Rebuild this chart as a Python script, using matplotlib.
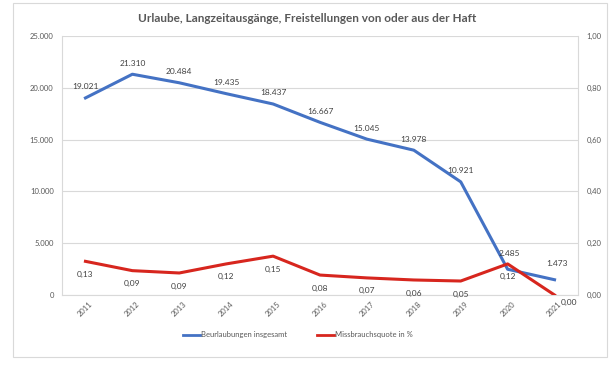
import matplotlib.pyplot as plt
from matplotlib.patches import Rectangle

# values
years = ['2011', '2012', '2013', '2014', '2015', '2016', '2017', '2018', '2019', '2020', '2021']
beurlaubungen = [19021, 21310, 20484, 19435, 18437, 16667, 15045, 13978, 10921, 2485, 1473]
missbrauch = [0.13, 0.094, 0.085, 0.12, 0.15, 0.077, 0.066, 0.058, 0.054, 0.12, 0.0]
missbrauch_labels = ['0,13', '0,09', '0,09', '0,12', '0,15', '0,08', '0,07', '0,06', '0,05', '0,12', '0,00']
left_ticks = [0, 5000, 10000, 15000, 20000, 25000]
right_ticks = [0.0, 0.2, 0.4, 0.6, 0.8, 1.0]

BLUE = '#4472C4'
RED = '#D7261E'
GREY = '#595959'
GRID = '#D9D9D9'

plt.rcParams['font.family'] = ['Lato', 'DejaVu Sans']


def de_int(v):
    return '{:,}'.format(int(v)).replace(',', '.')


def de_dec(v):
    return '{:.2f}'.format(v).replace('.', ',')


fig = plt.figure(figsize=(6.15, 3.67), dpi=100)
fig.patches.append(Rectangle((13 / 615, 1 - 357 / 367), 594 / 615, 354 / 367,
                             transform=fig.transFigure, fill=False,
                             edgecolor='#D9D9D9', linewidth=0.8))

ax = fig.add_axes([62 / 615, 1 - 295 / 367, 516 / 615, 259 / 367])
ax2 = ax.twinx()

x = list(range(len(years)))
ax.plot(x, beurlaubungen, color=BLUE, linewidth=2.2, zorder=3)
ax2.plot(x, missbrauch, color=RED, linewidth=2.2, zorder=3)

ax.set_xlim(-0.5, len(years) - 0.5)
ax.set_ylim(0, 25000)
ax2.set_ylim(0, 1.0)
ax.set_yticks(left_ticks)
ax.set_yticklabels([de_int(t) for t in left_ticks])
ax2.set_yticks(right_ticks)
ax2.set_yticklabels([de_dec(t) for t in right_ticks])
ax.set_xticks(x)
ax.set_xticklabels(years, rotation=45, ha='center', va='top')

ax.grid(axis='y', color=GRID, linewidth=0.8)
ax.set_axisbelow(True)
for a in (ax, ax2):
    for s in a.spines.values():
        s.set_visible(False)
    a.tick_params(length=0, labelsize=5.5, labelcolor=GREY)
ax.spines['left'].set_visible(True)
ax.spines['left'].set_color(GRID)
ax.spines['bottom'].set_visible(True)
ax.spines['bottom'].set_color(GRID)
ax2.spines['right'].set_visible(True)
ax2.spines['right'].set_color(GRID)
ax.tick_params(axis='y', pad=6)
ax2.tick_params(axis='y', pad=6)
ax.tick_params(axis='x', pad=4)

# data labels
for i, v in enumerate(beurlaubungen):
    off = (0, 11) if i < 9 else (2, 16)
    ax.annotate(de_int(v), (i, v), xytext=off, textcoords='offset pixels',
                ha='center', va='center', fontsize=6, color='#404040', zorder=4)
for i, v in enumerate(missbrauch):
    if i == len(missbrauch) - 1:
        off, ha = (6, -7), 'left'
    else:
        off, ha = (0, -13), 'center'
    ax2.annotate(missbrauch_labels[i], (i, v), xytext=off, textcoords='offset pixels',
                 ha=ha, va='center', fontsize=6, color='#404040', zorder=4)

fig.text(0.5, 1 - 18 / 367, 'Urlaube, Langzeitausgänge, Freistellungen von oder aus der Haft',
         ha='center', va='center', fontsize=8.5, fontweight='bold', color=GREY)

h1, = ax.plot([], [], color=BLUE, linewidth=2)
h2, = ax.plot([], [], color=RED, linewidth=2)
fig.legend([h1, h2], ['Beurlaubungen insgesamt', 'Missbrauchsquote in %'],
           loc='center', bbox_to_anchor=(298 / 615, 1 - 335 / 367), ncol=2,
           frameon=False, fontsize=5.5, labelcolor=GREY, handlelength=2.2,
           handletextpad=0.1, columnspacing=4)

fig.savefig('out.png', dpi=100, facecolor='white')
